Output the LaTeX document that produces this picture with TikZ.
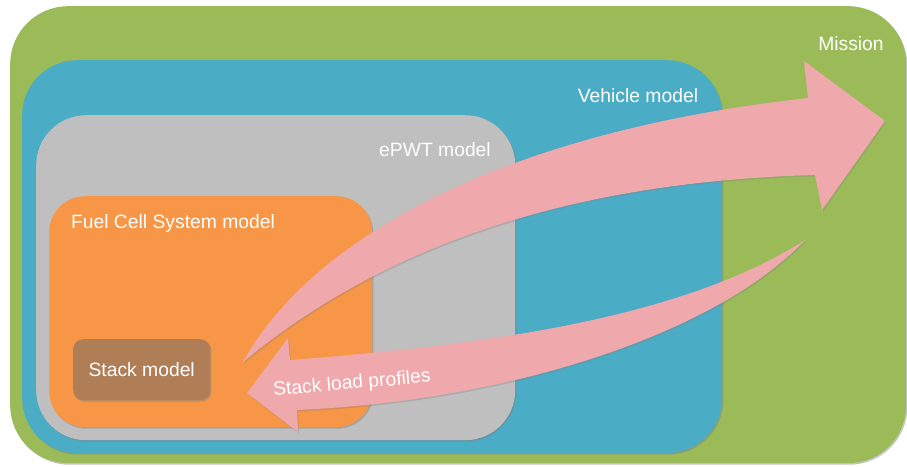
\documentclass[tikz,border=0pt]{standalone}
\usepackage{fontspec}
\setmainfont{Liberation Sans}
\usetikzlibrary{shadows}
\definecolor{missiongreen}{RGB}{155,187,89}
\definecolor{vehicleblue}{RGB}{75,172,198}
\definecolor{epwtgray}{RGB}{191,191,191}
\definecolor{fcsorange}{RGB}{247,150,70}
\definecolor{stackbrown}{RGB}{176,126,86}
\definecolor{flowpink}{RGB}{239,168,172}
\tikzset{
  layer/.style={rounded corners=#1, anchor=north west, inner sep=0pt,
    drop shadow={shadow xshift=1.2pt, shadow yshift=-1.5pt, opacity=0.45}},
  lbl/.style={text=white, font=\fontsize{19.3}{23}\selectfont, inner sep=0pt},
  flow/.style={fill=flowpink,
    drop shadow={shadow xshift=1pt, shadow yshift=-1.5pt, opacity=0.3}}
}
\begin{document}
\begin{tikzpicture}[x=1pt,y=-1pt]
  \clip (0,0) rectangle (907,466);
  \fill[white] (0,0) rectangle (907,466);
  \node[layer=58, fill=missiongreen, minimum width=896pt, minimum height=457pt] (mission) at (10,6) {};
  \node[layer=55, fill=vehicleblue, minimum width=700pt, minimum height=393pt] (vehicle) at (22,60) {};
  \node[layer=50, fill=epwtgray, minimum width=479pt, minimum height=325pt] (epwt) at (36,115) {};
  \node[layer=36, fill=fcsorange, minimum width=323pt, minimum height=231pt] (fcs) at (49,196) {};
  \node[layer=10, fill=stackbrown, minimum width=137pt, minimum height=61pt] (stack) at (73,339) {};
  \node[lbl] (missionlbl) at (851,44) {Mission};
  \node[lbl] (vehiclelbl) at (638,96) {Vehicle model};
  \node[lbl] (epwtlbl) at (435,150) {ePWT model};
  \node[lbl] (fcslbl) at (173,224) {Fuel Cell System model};
  \node[lbl] (stacklbl) at (stack.center) {Stack model};
  % requirements up to the mission
  \fill[flow] (243,362) .. controls (310,240) and (500,132) .. (808,98)
    -- (804,61) -- (885,121) -- (822,210) -- (815,175)
    .. controls (640,180) and (420,215) .. (243,362) -- cycle;
  % load profiles down to the stack
  \fill[flow] (805,240) .. controls (680,320) and (480,345) .. (290,360)
    -- (288,338) -- (247,393) -- (298,432) -- (297,410)
    .. controls (520,400) and (720,330) .. (805,240) -- cycle;
  \node[lbl, rotate=5] (profileslbl) at (352,384) {Stack load profiles};
\end{tikzpicture}
\end{document}
